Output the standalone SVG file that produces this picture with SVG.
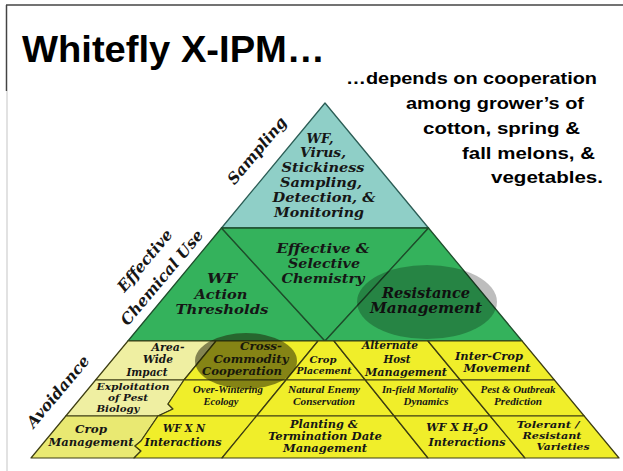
<svg xmlns="http://www.w3.org/2000/svg" width="623" height="471" viewBox="0 0 623 471">
<style>
.s{font-family:"Liberation Sans",Arial,sans-serif;font-weight:bold;fill:#000}
.t{font-family:"DejaVu Serif",serif;font-weight:bold;font-style:italic;fill:#161616;text-anchor:middle}
.c{font-family:"Liberation Serif",serif;font-weight:bold;font-style:italic;fill:#161616;text-anchor:middle}
.teal{fill:#8fcfc7;stroke:#2b5d55;stroke-width:1.3;stroke-linejoin:round}
.grn{fill:#34b25c;stroke:#1e4d2b;stroke-width:1.3;stroke-linejoin:round}
.yel{fill:#f0ee2a;stroke:#3d3d12;stroke-width:1.2;stroke-linejoin:round}
.pale{fill:#efefa2;stroke:#3d3d12;stroke-width:1.2;stroke-linejoin:round}
.pale2{fill:#e9e972;stroke:#3d3d12;stroke-width:1.2;stroke-linejoin:round}
</style>
<rect width="623" height="471" fill="#fff"/>
<g id="frame">
<line x1="6" y1="5" x2="623" y2="5" stroke="#444" stroke-width="1.5"/>
<line x1="6.5" y1="5" x2="6.5" y2="91" stroke="#444" stroke-width="1.5"/>
<line x1="7" y1="91" x2="7" y2="471" stroke="#cfcfcf" stroke-width="1.2"/>
</g>
<g id="title">
<text class="s" x="22" y="62" font-size="36" textLength="303" lengthAdjust="spacingAndGlyphs">Whitefly X-IPM…</text>
</g>
<g id="subtitle">
<text class="s" x="346" y="84" font-size="17" textLength="251" lengthAdjust="spacingAndGlyphs">…depends on cooperation</text>
<text class="s" x="406" y="109" font-size="17" textLength="178" lengthAdjust="spacingAndGlyphs">among grower’s of</text>
<text class="s" x="423" y="134" font-size="17" textLength="157" lengthAdjust="spacingAndGlyphs">cotton, spring &amp;</text>
<text class="s" x="462" y="159" font-size="17" textLength="133" lengthAdjust="spacingAndGlyphs">fall melons, &amp;</text>
<text class="s" x="491" y="183" font-size="17" textLength="112" lengthAdjust="spacingAndGlyphs">vegetables.</text>
</g>

<g id="sampling">
<polygon class="teal" points="325,103 428.5,228 221.5,228"/>
<text class="t" font-size="13.2" x="320" y="143" textLength="27" lengthAdjust="spacingAndGlyphs">WF,</text>
<text class="t" font-size="13.2" x="323" y="157" textLength="46" lengthAdjust="spacingAndGlyphs">Virus,</text>
<text class="t" font-size="13.2" x="323" y="172" textLength="83" lengthAdjust="spacingAndGlyphs">Stickiness</text>
<text class="t" font-size="13.2" x="321" y="187" textLength="82" lengthAdjust="spacingAndGlyphs">Sampling,</text>
<text class="t" font-size="13.2" x="324" y="202" textLength="103" lengthAdjust="spacingAndGlyphs">Detection, &amp;</text>
<text class="t" font-size="13.2" x="319" y="217" textLength="90" lengthAdjust="spacingAndGlyphs">Monitoring</text>
</g>
<g id="thresholds">
<polygon class="grn" points="221.5,228 325,341 127.9,341"/>
<text class="t" font-size="13.8" x="222" y="283" textLength="30" lengthAdjust="spacingAndGlyphs">WF</text>
<text class="t" font-size="13.8" x="221" y="299" textLength="53" lengthAdjust="spacingAndGlyphs">Action</text>
<text class="t" font-size="13.8" x="222" y="314" textLength="93" lengthAdjust="spacingAndGlyphs">Thresholds</text>
</g>
<g id="chemistry">
<polygon class="grn" points="221.5,228 428.5,228 325,341"/>
<text class="t" font-size="13.3" x="323" y="253" textLength="93" lengthAdjust="spacingAndGlyphs">Effective &amp;</text>
<text class="t" font-size="13.3" x="324" y="268" textLength="72" lengthAdjust="spacingAndGlyphs">Selective</text>
<text class="t" font-size="13.3" x="323" y="283" textLength="83" lengthAdjust="spacingAndGlyphs">Chemistry</text>
</g>
<g id="resistance">
<polygon class="grn" points="428.5,228 522.1,341 325,341"/>
<text class="t" font-size="14" x="426" y="298" textLength="88" lengthAdjust="spacingAndGlyphs">Resistance</text>
<text class="t" font-size="14" x="426" y="313" textLength="112" lengthAdjust="spacingAndGlyphs">Management</text>
</g>

<g id="area-wide">
<polygon class="pale" points="127.9,341 216,341 184,380 95.6,380"/>
<text class="t" font-size="10.3" x="168" y="351" textLength="33" lengthAdjust="spacingAndGlyphs">Area-</text>
<text class="t" font-size="10.3" x="158" y="363" textLength="30" lengthAdjust="spacingAndGlyphs">Wide</text>
<text class="t" font-size="10.3" x="147" y="376" textLength="41" lengthAdjust="spacingAndGlyphs">Impact</text>
</g>
<g id="cross-commodity">
<polygon class="yel" points="216,341 318,341 286,380 184,380"/>
<text class="t" font-size="10.6" x="261" y="350" textLength="42" lengthAdjust="spacingAndGlyphs">Cross-</text>
<text class="t" font-size="10.6" x="251" y="363" textLength="75" lengthAdjust="spacingAndGlyphs">Commodity</text>
<text class="t" font-size="10.6" x="242" y="375" textLength="80" lengthAdjust="spacingAndGlyphs">Cooperation</text>
</g>
<g id="crop-placement">
<polygon class="yel" points="318,341 334,341 365.3,380 286,380"/>
<text class="t" font-size="9.4" x="323" y="363" textLength="27" lengthAdjust="spacingAndGlyphs">Crop</text>
<text class="t" font-size="9.4" x="324" y="374" textLength="55" lengthAdjust="spacingAndGlyphs">Placement</text>
</g>
<g id="alternate-host">
<polygon class="yel" points="334,341 428,341 460.3,380 365.3,380"/>
<text class="t" font-size="10.6" x="390" y="349" textLength="56" lengthAdjust="spacingAndGlyphs">Alternate</text>
<text class="t" font-size="10.6" x="397" y="363" textLength="27" lengthAdjust="spacingAndGlyphs">Host</text>
<text class="t" font-size="10.6" x="406" y="376" textLength="82" lengthAdjust="spacingAndGlyphs">Management</text>
</g>
<g id="inter-crop">
<polygon class="yel" points="428,341 522.1,341 554.4,380 460.3,380"/>
<text class="t" font-size="10.6" x="489" y="360" textLength="68" lengthAdjust="spacingAndGlyphs">Inter-Crop</text>
<text class="t" font-size="10.6" x="497" y="372" textLength="67" lengthAdjust="spacingAndGlyphs">Movement</text>
</g>

<g id="exploitation">
<polygon class="pale" points="95.6,380 184,380 168,404 173,409 158,416 65.8,416"/>
<text class="t" font-size="10" x="133" y="390" textLength="73" lengthAdjust="spacingAndGlyphs">Exploitation</text>
<text class="t" font-size="10" x="128" y="401" textLength="40" lengthAdjust="spacingAndGlyphs">of Pest</text>
<text class="t" font-size="10" x="118" y="412" textLength="43" lengthAdjust="spacingAndGlyphs">Biology</text>
</g>
<g id="over-wintering">
<polygon class="yel" points="184,380 286,380 256.5,416 158,416 173,409 168,404"/>
<text class="c" font-size="11" x="228" y="393" textLength="70" lengthAdjust="spacingAndGlyphs">Over-Wintering</text>
<text class="c" font-size="11" x="221" y="405" textLength="35" lengthAdjust="spacingAndGlyphs">Ecology</text>
</g>
<g id="natural-enemy">
<polygon class="yel" points="286,380 365.3,380 394.2,416 256.5,416"/>
<text class="c" font-size="11" x="324" y="393" textLength="72" lengthAdjust="spacingAndGlyphs">Natural Enemy</text>
<text class="c" font-size="11" x="324" y="405" textLength="62" lengthAdjust="spacingAndGlyphs">Conservation</text>
</g>
<g id="in-field">
<polygon class="yel" points="365.3,380 460.3,380 490.2,416 394.2,416"/>
<text class="c" font-size="11" x="420" y="393" textLength="76" lengthAdjust="spacingAndGlyphs">In-field Mortality</text>
<text class="c" font-size="11" x="426" y="405" textLength="45" lengthAdjust="spacingAndGlyphs">Dynamics</text>
</g>
<g id="pest-outbreak">
<polygon class="yel" points="460.3,380 554.4,380 584.2,416 490.2,416"/>
<text class="c" font-size="11" x="518" y="393" textLength="75" lengthAdjust="spacingAndGlyphs">Pest &amp; Outbreak</text>
<text class="c" font-size="11" x="518" y="405" textLength="48" lengthAdjust="spacingAndGlyphs">Prediction</text>
</g>

<g id="crop-management">
<polygon class="pale2" points="65.8,416 158,416 141,441 135,446 141,451 134,458 31,458"/>
<text class="t" font-size="11" x="91" y="433" textLength="32" lengthAdjust="spacingAndGlyphs">Crop</text>
<text class="t" font-size="11" x="91" y="446" textLength="85" lengthAdjust="spacingAndGlyphs">Management</text>
</g>
<g id="wf-x-n">
<polygon class="yel" points="158,416 256.5,416 222,458 134,458 141,451 135,446 141,441"/>
<text class="t" font-size="11" x="184" y="432" textLength="42" lengthAdjust="spacingAndGlyphs">WF X N</text>
<text class="t" font-size="11" x="183" y="446" textLength="77" lengthAdjust="spacingAndGlyphs">Interactions</text>
</g>
<g id="planting">
<polygon class="yel" points="256.5,416 394.2,416 428,458 222,458"/>
<text class="t" font-size="10.2" x="324" y="428" textLength="68" lengthAdjust="spacingAndGlyphs">Planting &amp;</text>
<text class="t" font-size="10.2" x="325" y="440" textLength="114" lengthAdjust="spacingAndGlyphs">Termination Date</text>
<text class="t" font-size="10.2" x="325" y="452" textLength="84" lengthAdjust="spacingAndGlyphs">Management</text>
</g>
<g id="wf-x-h2o">
<polygon class="yel" points="394.2,416 490.2,416 525,458 428,458"/>
<text class="t" font-size="11" x="457" y="431">WF X H<tspan font-size="7.5" dy="3">2</tspan><tspan dy="-3">O</tspan></text>
<text class="t" font-size="11" x="467" y="446" textLength="77" lengthAdjust="spacingAndGlyphs">Interactions</text>
</g>
<g id="tolerant">
<polygon class="yel" points="490.2,416 584.2,416 619,458 525,458"/>
<text class="t" font-size="9.8" x="548" y="428" textLength="63" lengthAdjust="spacingAndGlyphs">Tolerant /</text>
<text class="t" font-size="9.8" x="552" y="439" textLength="59" lengthAdjust="spacingAndGlyphs">Resistant</text>
<text class="t" font-size="9.8" x="563" y="450" textLength="53" lengthAdjust="spacingAndGlyphs">Varieties</text>
</g>

<g id="highlights">
<ellipse cx="246" cy="361" rx="51" ry="28" fill="#1a1a00" opacity="0.5"/>
<ellipse cx="427" cy="302" rx="70" ry="37" fill="#000" opacity="0.26"/>
</g>

<g id="side-labels">
<text class="t" font-size="15.5" fill="#222" transform="translate(261,154) rotate(-50)">Sampling</text>
<text class="t" font-size="15.5" fill="#222" transform="translate(149,264) rotate(-50)">Effective</text>
<text class="t" font-size="15.5" fill="#222" transform="translate(166,281) rotate(-50)">Chemical Use</text>
<text class="t" font-size="15.5" fill="#222" transform="translate(62,395) rotate(-50)">Avoidance</text>
</g>
</svg>
